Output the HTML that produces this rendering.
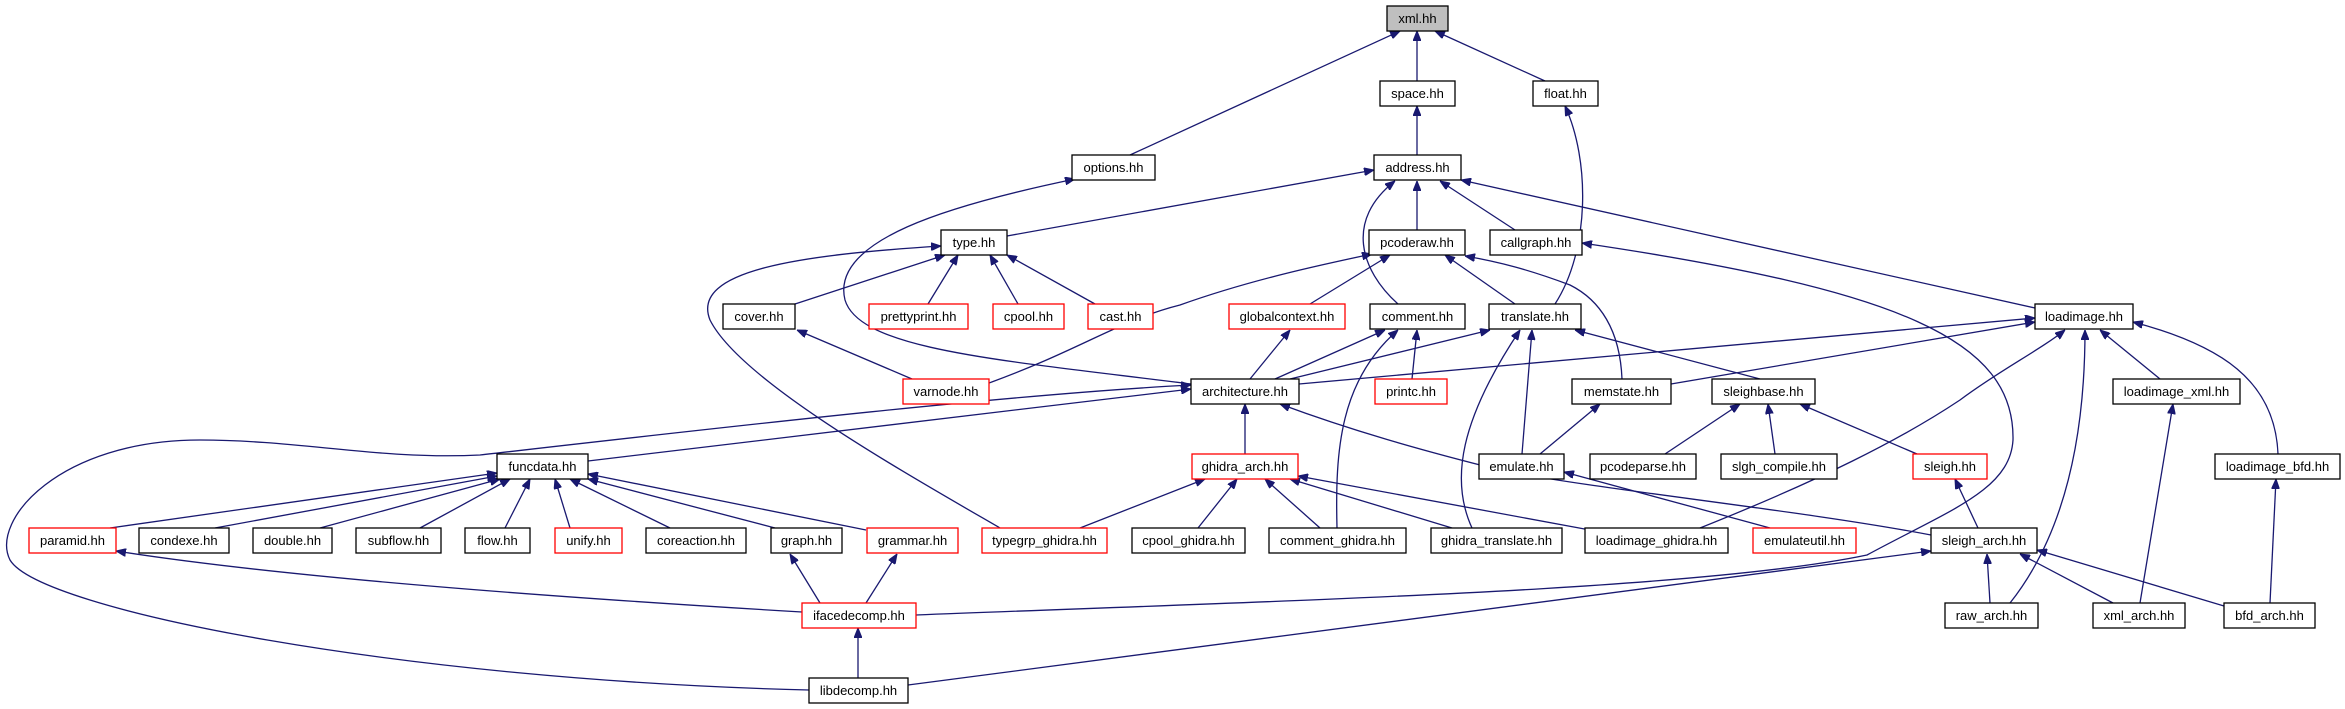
<!DOCTYPE html>
<html><head><meta charset="utf-8"><style>
html,body{margin:0;padding:0;background:#fff;}
svg{display:block;}
text{font-family:"Liberation Sans",sans-serif;font-size:13px;text-anchor:middle;fill:#000;}
.n{fill:#fff;stroke:#000;stroke-width:1.3;}
.r{fill:#fff;stroke:#ff0000;stroke-width:1.3;}
.e{fill:none;stroke:#191970;stroke-width:1.3;marker-end:url(#a);}
</style></head><body>
<svg width="2345" height="709" viewBox="0 0 2345 709" xmlns="http://www.w3.org/2000/svg">
<defs><marker id="a" markerWidth="10" markerHeight="8" refX="10" refY="4" orient="auto" markerUnits="userSpaceOnUse"><path d="M0,0 L10,4 L0,8 Z" fill="#191970" stroke="#191970"/></marker></defs>
<g>
<path class="e" d="M1130,155 L1400,31"/>
<path class="e" d="M1417,81 L1417,31"/>
<path class="e" d="M1545,81 L1435,31"/>
<path class="e" d="M1417,155 L1417,106"/>
<path class="e" d="M1555,304 C1590,250 1590,160 1565,106"/>
<path class="e" d="M1191,384 C1000,360 860,350 845,300 C830,240 950,205 1075,179"/>
<path class="e" d="M1007,236 L1374,170"/>
<path class="e" d="M1417,230 L1417,181"/>
<path class="e" d="M1398,304 C1360,270 1345,220 1395,181"/>
<path class="e" d="M1515,230 L1440,181"/>
<path class="e" d="M2035,308 L1461,180"/>
<path class="e" d="M795,304 L945,255"/>
<path class="e" d="M928,304 L958,255"/>
<path class="e" d="M1018,304 L990,255"/>
<path class="e" d="M1095,304 L1007,255"/>
<path class="e" d="M1000,528 C900,470 740,380 710,320 C690,270 800,255 941,246"/>
<path class="e" d="M912,379 L797,330"/>
<path class="e" d="M989,383 C1080,350 1120,320 1180,305 C1250,280 1320,265 1372,254"/>
<path class="e" d="M1310,304 L1390,255"/>
<path class="e" d="M1515,304 L1445,255"/>
<path class="e" d="M1622,379 C1620,330 1600,300 1570,285 C1530,270 1500,262 1465,256"/>
<path class="e" d="M1250,379 L1290,330"/>
<path class="e" d="M1275,379 L1385,330"/>
<path class="e" d="M1412,379 L1417,330"/>
<path class="e" d="M1337,528 C1335,450 1340,380 1398,330"/>
<path class="e" d="M1290,379 L1490,330"/>
<path class="e" d="M1522,454 L1532,330"/>
<path class="e" d="M1472,528 C1450,480 1460,420 1520,330"/>
<path class="e" d="M1760,379 L1575,330"/>
<path class="e" d="M1299,384 L2035,318"/>
<path class="e" d="M1671,384 L2035,322"/>
<path class="e" d="M2160,379 L2100,330"/>
<path class="e" d="M1700,528 C1820,480 1900,440 1960,400 C2000,370 2040,350 2065,330"/>
<path class="e" d="M2010,603 C2060,540 2085,450 2085,330"/>
<path class="e" d="M2278,454 C2275,380 2220,345 2133,322"/>
<path class="e" d="M916,615 C1300,600 1700,590 1867,555 C1950,510 2010,490 2013,440 C2015,340 1900,290 1582,243"/>
<path class="e" d="M588,461 L1191,389"/>
<path class="e" d="M809,690 C400,680 40,610 10,560 C-10,520 60,440 200,440 C300,440 380,460 480,455 C700,430 1000,395 1191,385"/>
<path class="e" d="M1245,454 L1245,404"/>
<path class="e" d="M1931,535 C1800,510 1600,490 1500,470 C1420,450 1350,430 1280,404"/>
<path class="e" d="M110,528 L497,473"/>
<path class="e" d="M215,528 L497,476"/>
<path class="e" d="M320,528 L500,479"/>
<path class="e" d="M420,528 L510,479"/>
<path class="e" d="M505,528 L530,479"/>
<path class="e" d="M570,528 L555,479"/>
<path class="e" d="M670,528 L570,479"/>
<path class="e" d="M775,528 L588,479"/>
<path class="e" d="M866,530 L588,474"/>
<path class="e" d="M1080,528 L1205,479"/>
<path class="e" d="M1198,528 L1237,479"/>
<path class="e" d="M1320,528 L1265,479"/>
<path class="e" d="M1452,528 L1290,479"/>
<path class="e" d="M1590,530 L1298,476"/>
<path class="e" d="M1540,454 L1600,404"/>
<path class="e" d="M1770,528 L1564,472"/>
<path class="e" d="M1665,454 L1740,404"/>
<path class="e" d="M1775,454 L1768,404"/>
<path class="e" d="M1917,454 L1800,404"/>
<path class="e" d="M1978,528 L1955,479"/>
<path class="e" d="M1990,603 L1987,554"/>
<path class="e" d="M2113,603 L2020,554"/>
<path class="e" d="M2224,606 L2037,550"/>
<path class="e" d="M908,685 L1931,551"/>
<path class="e" d="M802,612 C600,600 300,580 116,551"/>
<path class="e" d="M820,603 L790,554"/>
<path class="e" d="M866,603 L897,554"/>
<path class="e" d="M858,678 L858,628"/>
<path class="e" d="M2140,603 L2173,404"/>
<path class="e" d="M2270,603 L2276,479"/>
</g>
<g>
<rect x="1387" y="6" width="61" height="25" fill="#bfbfbf" stroke="#000" stroke-width="1.3"/><text x="1417.5" y="23">xml.hh</text>
<rect class="n" x="1380" y="81" width="75" height="25"/><text x="1417.5" y="98">space.hh</text>
<rect class="n" x="1533" y="81" width="65" height="25"/><text x="1565.5" y="98">float.hh</text>
<rect class="n" x="1072" y="155" width="83" height="25"/><text x="1113.5" y="172">options.hh</text>
<rect class="n" x="1374" y="155" width="87" height="25"/><text x="1417.5" y="172">address.hh</text>
<rect class="n" x="941" y="230" width="66" height="25"/><text x="974" y="247">type.hh</text>
<rect class="n" x="1369" y="230" width="96" height="25"/><text x="1417" y="247">pcoderaw.hh</text>
<rect class="n" x="1490" y="230" width="92" height="25"/><text x="1536" y="247">callgraph.hh</text>
<rect class="n" x="723" y="304" width="72" height="25"/><text x="759" y="321">cover.hh</text>
<rect class="r" x="869" y="304" width="99" height="25"/><text x="918.5" y="321">prettyprint.hh</text>
<rect class="r" x="993" y="304" width="71" height="25"/><text x="1028.5" y="321">cpool.hh</text>
<rect class="r" x="1088" y="304" width="65" height="25"/><text x="1120.5" y="321">cast.hh</text>
<rect class="r" x="1229" y="304" width="116" height="25"/><text x="1287" y="321">globalcontext.hh</text>
<rect class="n" x="1370" y="304" width="95" height="25"/><text x="1417.5" y="321">comment.hh</text>
<rect class="n" x="1489" y="304" width="92" height="25"/><text x="1535" y="321">translate.hh</text>
<rect class="n" x="2035" y="304" width="98" height="25"/><text x="2084" y="321">loadimage.hh</text>
<rect class="r" x="903" y="379" width="86" height="25"/><text x="946" y="396">varnode.hh</text>
<rect class="n" x="1191" y="379" width="108" height="25"/><text x="1245" y="396">architecture.hh</text>
<rect class="r" x="1375" y="379" width="72" height="25"/><text x="1411" y="396">printc.hh</text>
<rect class="n" x="1572" y="379" width="99" height="25"/><text x="1621.5" y="396">memstate.hh</text>
<rect class="n" x="1712" y="379" width="103" height="25"/><text x="1763.5" y="396">sleighbase.hh</text>
<rect class="n" x="2113" y="379" width="127" height="25"/><text x="2176.5" y="396">loadimage_xml.hh</text>
<rect class="n" x="497" y="454" width="91" height="25"/><text x="542.5" y="471">funcdata.hh</text>
<rect class="r" x="1192" y="454" width="106" height="25"/><text x="1245" y="471">ghidra_arch.hh</text>
<rect class="n" x="1479" y="454" width="85" height="25"/><text x="1521.5" y="471">emulate.hh</text>
<rect class="n" x="1590" y="454" width="106" height="25"/><text x="1643" y="471">pcodeparse.hh</text>
<rect class="n" x="1721" y="454" width="116" height="25"/><text x="1779" y="471">slgh_compile.hh</text>
<rect class="r" x="1913" y="454" width="74" height="25"/><text x="1950" y="471">sleigh.hh</text>
<rect class="n" x="2215" y="454" width="125" height="25"/><text x="2277.5" y="471">loadimage_bfd.hh</text>
<rect class="r" x="29" y="528" width="87" height="25"/><text x="72.5" y="545">paramid.hh</text>
<rect class="n" x="139" y="528" width="90" height="25"/><text x="184" y="545">condexe.hh</text>
<rect class="n" x="253" y="528" width="79" height="25"/><text x="292.5" y="545">double.hh</text>
<rect class="n" x="356" y="528" width="85" height="25"/><text x="398.5" y="545">subflow.hh</text>
<rect class="n" x="465" y="528" width="65" height="25"/><text x="497.5" y="545">flow.hh</text>
<rect class="r" x="555" y="528" width="67" height="25"/><text x="588.5" y="545">unify.hh</text>
<rect class="n" x="646" y="528" width="100" height="25"/><text x="696" y="545">coreaction.hh</text>
<rect class="n" x="771" y="528" width="71" height="25"/><text x="806.5" y="545">graph.hh</text>
<rect class="r" x="867" y="528" width="91" height="25"/><text x="912.5" y="545">grammar.hh</text>
<rect class="r" x="982" y="528" width="125" height="25"/><text x="1044.5" y="545">typegrp_ghidra.hh</text>
<rect class="n" x="1132" y="528" width="113" height="25"/><text x="1188.5" y="545">cpool_ghidra.hh</text>
<rect class="n" x="1269" y="528" width="137" height="25"/><text x="1337.5" y="545">comment_ghidra.hh</text>
<rect class="n" x="1431" y="528" width="131" height="25"/><text x="1496.5" y="545">ghidra_translate.hh</text>
<rect class="n" x="1585" y="528" width="143" height="25"/><text x="1656.5" y="545">loadimage_ghidra.hh</text>
<rect class="r" x="1753" y="528" width="103" height="25"/><text x="1804.5" y="545">emulateutil.hh</text>
<rect class="n" x="1931" y="528" width="106" height="25"/><text x="1984" y="545">sleigh_arch.hh</text>
<rect class="r" x="802" y="603" width="114" height="25"/><text x="859" y="620">ifacedecomp.hh</text>
<rect class="n" x="1945" y="603" width="93" height="25"/><text x="1991.5" y="620">raw_arch.hh</text>
<rect class="n" x="2093" y="603" width="92" height="25"/><text x="2139" y="620">xml_arch.hh</text>
<rect class="n" x="2224" y="603" width="91" height="25"/><text x="2269.5" y="620">bfd_arch.hh</text>
<rect class="n" x="809" y="678" width="99" height="25"/><text x="858.5" y="695">libdecomp.hh</text>
</g>
</svg>
</body></html>
